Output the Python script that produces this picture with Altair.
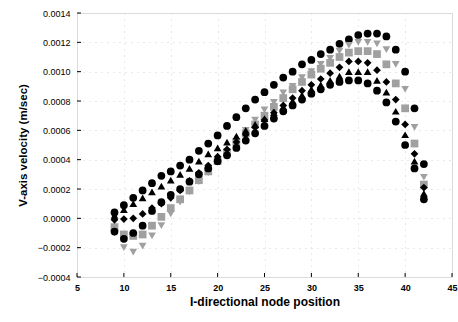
import altair as alt
import pandas as pd

# node positions (x) shared by all series
node_pos = list(range(9, 43))

circle_a = [0.00004, 0.00009, 0.00014, 0.00019, 0.00024, 0.00029, 0.00032, 0.00036, 0.00040,
            0.00046, 0.00051, 0.000565, 0.00063, 0.00069, 0.00075, 0.00081, 0.00086, 0.00091,
            0.00096, 0.00100, 0.00105, 0.00108, 0.00112, 0.00115, 0.00119, 0.00122, 0.00125,
            0.00126, 0.00126, 0.00124, 0.00115, 0.00100, 0.00075, 0.00037]
tri_down = [-0.00010, -0.00020, -0.00023, -0.00019, -0.00012, -0.00005, 0.00003, 0.00011, 0.00018,
            0.00025, 0.00031, 0.00038, 0.00045, 0.00052, 0.00060, 0.00067, 0.00074, 0.00079,
            0.000855, 0.00090, 0.00096, 0.00100, 0.00105, 0.00109, 0.00114, 0.00118, 0.00120,
            0.00120, 0.00119, 0.00115, 0.00105, 0.00088, 0.00062, 0.00028]
square_g = [-0.00006, -0.00011, -0.00012, -0.00011, -0.00005, 0.00001, 0.00007, 0.00013, 0.00019,
            0.00026, 0.00032, 0.00039, 0.00045, 0.00052, 0.00058, 0.00064, 0.00070, 0.00076,
            0.00082, 0.00088, 0.00093, 0.00098, 0.00102, 0.00106, 0.00110, 0.00113, 0.00114,
            0.00114, 0.00112, 0.00105, 0.00092, 0.00075, 0.00051, 0.00023]
diamond = [-0.00001, -0.000005, 0.0, 0.00003, 0.00007, 0.00010, 0.00014, 0.00019, 0.000255,
           0.00031, 0.00036, 0.00042, 0.00047, 0.00052, 0.00057, 0.00062, 0.00067, 0.00072,
           0.00077, 0.00082, 0.00087, 0.00091, 0.00095, 0.00099, 0.00103, 0.00107, 0.00107,
           0.00106, 0.00101, 0.00093, 0.00081, 0.00064, 0.00044, 0.00021]
tri_up = [0.00002, 0.00006, 0.00010, 0.00014, 0.00018, 0.00022, 0.00026, 0.00030, 0.00034,
          0.00039, 0.00044, 0.00048, 0.00052, 0.00056, 0.00060, 0.00064, 0.00068, 0.00072,
          0.00076, 0.00080, 0.00084, 0.00088, 0.00091, 0.00094, 0.00097, 0.00100, 0.00100,
          0.00100, 0.00094, 0.00086, 0.00073, 0.00057, 0.00039, 0.00017]
circle_b = [-0.00009, -0.00014, -0.00010, -0.00005, 0.00005, 0.00011, 0.00016, 0.00020, 0.00025,
            0.00030, 0.00034, 0.00039, 0.00043, 0.00048, 0.00053, 0.00058, 0.00063, 0.00068,
            0.00073, 0.00077, 0.00081, 0.00085, 0.00088, 0.00091, 0.00093, 0.00094, 0.00094,
            0.00092, 0.00087, 0.00079, 0.00066, 0.00050, 0.00034, 0.00013]

series_names = ["s1", "s2", "s3", "s4", "s5", "s6"]
series_vals = [circle_a, tri_down, square_g, diamond, tri_up, circle_b]
series_shapes = ["circle", "triangle-down", "square", "diamond", "triangle-up", "circle"]
series_colors = ["#000000", "#a0a0a0", "#a0a0a0", "#000000", "#000000", "#000000"]

x_ticks = [5, 10, 15, 20, 25, 30, 35, 40, 45]
y_ticks = [-0.0004, -0.0002, 0.0, 0.0002, 0.0004, 0.0006, 0.0008, 0.0010, 0.0012, 0.0014]

rows = []
for name, vals in zip(series_names, series_vals):
    for xv, yv in zip(node_pos, vals):
        rows.append({"x": xv, "v": yv, "s": name})
df = pd.DataFrame(rows)

W, H = 375, 264
xs = alt.Scale(domain=[5, 45], nice=False, zero=False)
ys = alt.Scale(domain=[-0.0004, 0.0014], nice=False, zero=False)

FONT = "Liberation Sans"

x_axis = alt.Axis(
    values=x_ticks, title="I-directional node position", format="d",
    grid=True, gridColor="#d2d2d2", gridDash=[1, 5], tickSize=0, labelPadding=6,
    domain=False, labelFontSize=9, labelFont=FONT, labelFontWeight="bold",
    labelOverlap=False, labelFlush=False,
    titleFont=FONT, titleFontSize=12, titleFontWeight="bold", titlePadding=4)
y_axis = alt.Axis(
    values=y_ticks, title="V-axis velocity (m/sec)", format=".4f",
    grid=True, gridColor="#d2d2d2", gridDash=[1, 5], tickSize=0, labelPadding=7,
    domain=False, labelFontSize=9, labelFont=FONT,
    labelOverlap=False, labelFlush=False,
    titleFont=FONT, titleFontSize=11.5, titleFontWeight="bold", titlePadding=9)

points = alt.Chart(df).mark_point(filled=True, size=60, opacity=1).encode(
    x=alt.X("x:Q", scale=xs, axis=x_axis),
    y=alt.Y("v:Q", scale=ys, axis=y_axis),
    shape=alt.Shape("s:N", scale=alt.Scale(domain=series_names, range=series_shapes), legend=None),
    color=alt.Color("s:N", scale=alt.Scale(domain=series_names, range=series_colors), legend=None),
)

ytick_df = pd.DataFrame({"v": y_ticks})
xtick_df = pd.DataFrame({"x": x_ticks})

left_ticks = alt.Chart(ytick_df).mark_rule(color="black", strokeWidth=1).encode(
    y=alt.Y("v:Q", scale=ys, axis=y_axis), x=alt.value(0), x2=alt.value(4))
bottom_ticks = alt.Chart(xtick_df).mark_rule(color="black", strokeWidth=1).encode(
    x=alt.X("x:Q", scale=xs, axis=x_axis), y=alt.value(H), y2=alt.value(H - 4))

chart = alt.layer(points, left_ticks, bottom_ticks).properties(
    width=W, height=H,
    autosize=alt.AutoSizeParams(type="none"),
    padding={"left": 77, "top": 13, "right": 6, "bottom": 45},
).configure_view(stroke="black", strokeWidth=1.2).configure(background="white")

chart.save("out.html", embed_options={"renderer": "svg", "actions": False})
